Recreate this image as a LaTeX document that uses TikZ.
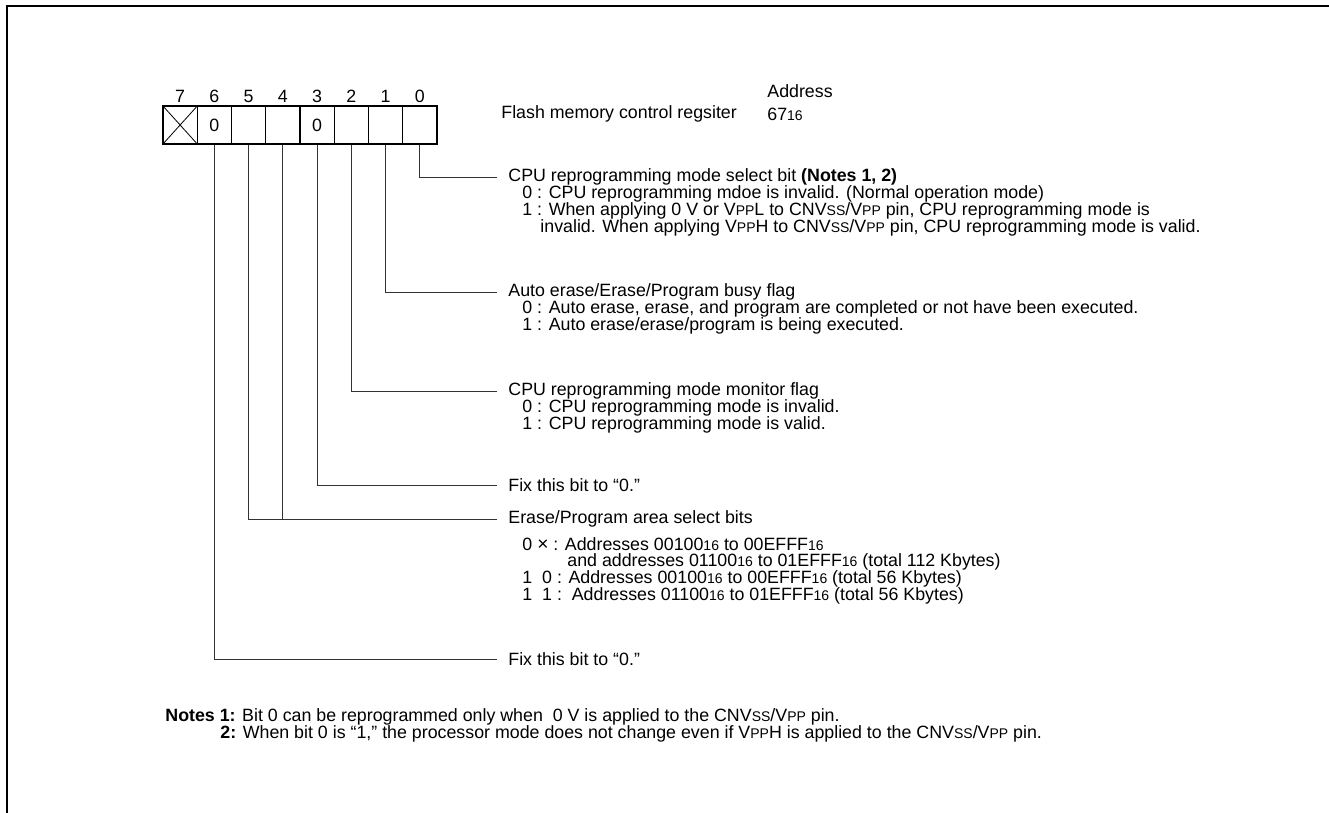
\documentclass[tikz,border=0pt]{standalone}
\usepackage{fontspec}
\setmainfont{Liberation Sans}
\usetikzlibrary{positioning}

% small letters used in pin names and in the radix
\newcommand\sml[1]{{\fontsize{7}{7}\selectfont #1}}
\newcommand\hex[1]{#1\sml{16}}

\tikzset{
  cell/.style={draw, line width=0.6pt, minimum width=17.1pt,
    minimum height=19pt, inner sep=0pt},
  bitnum/.style={inner sep=0pt},
  title/.style={anchor=west, inner xsep=5.5pt, inner ysep=0pt},
  item/.style={anchor=west, inner sep=0pt},
  lead/.style={line width=0.4pt, black!80}
}

\begin{document}
\begin{tikzpicture}[
  x=0.5pt,
  y=-0.5pt,
  font=\fontsize{8.9}{9}\selectfont
]
  \useasboundingbox (0,0) rectangle (1329,813);

  % Rahmen
  \draw[line width=1.4pt]
    (7,813) -- (7,6) -- (1329,6);

  % Register cells
  \foreach \b in {0,...,7} {
    \node[cell] (b\b) at ({163+34.25*(7-\b)+17.12},125) {};
    \node[bitnum] at ({163+34.25*(7-\b)+17.12},96) {\b};
  }
  \node at (b6) {0};
  \node at (b3) {0};
  \draw[line width=0.4pt]
    (b7.north west) -- (b7.south east)
    (b7.south west) -- (b7.north east);

  \node[item] (name) at (501,114) {Flash memory control regsiter};
  \node[item] (addr) at (767,91) {Address};
  \node[item] (addrv) at (767,114) {\hex{67}};

  % Bit 0
  \node[title] (t0) at (497,177)
    {CPU reprogramming mode select bit \textbf{(Notes 1, 2)}};
  \node[item] (t0a) at (522,194)
    {0 : CPU reprogramming mdoe is invalid. (Normal operation mode)};
  \node[item] (t0b) at (522,211)
    {1 : When applying 0 V or V\sml{PP}L to CNV\sml{SS}/V\sml{PP} pin,
     CPU reprogramming mode is};
  \node[item] (t0c) at (540,228)
    {invalid. When applying V\sml{PP}H to CNV\sml{SS}/V\sml{PP} pin,
     CPU reprogramming mode is valid.};

  % Bit 1
  \node[title] (t1) at (497,292)
    {Auto erase/Erase/Program busy flag};
  \node[item] (t1a) at (522,309)
    {0 : Auto erase, erase, and program are completed or not have been executed.};
  \node[item] (t1b) at (522,326)
    {1 : Auto erase/erase/program is being executed.};

  % Bit 2
  \node[title] (t2) at (497,391)
    {CPU reprogramming mode monitor flag};
  \node[item] (t2a) at (522,408)
    {0 : CPU reprogramming mode is invalid.};
  \node[item] (t2b) at (522,425)
    {1 : CPU reprogramming mode is valid.};

  % Bit 3
  \node[title] (t3) at (497,485) {Fix this bit to “0.”};

  % Bits 5, 4
  \node[title] (t4) at (497,519)
    {Erase/Program area select bits};
  \node[item] (t4a) at (522,544)
    {0 {\fontsize{9.6}{9.6}\selectfont ×} : Addresses \hex{00100} to \hex{00EFFF}};
  \node[item] (t4b) at (567,562)
    {and addresses \hex{01100} to \hex{01EFFF} (total 112 Kbytes)};
  \node[item] (t4c) at (522,579)
    {1\ \ 0 : Addresses \hex{00100} to \hex{00EFFF} (total 56 Kbytes)};
  \node[item] (t4d) at (522,596)
    {1\ \ 1 :\ \ Addresses \hex{01100} to \hex{01EFFF} (total 56 Kbytes)};

  % Bit 6
  \node[title] (t6) at (497,659) {Fix this bit to “0.”};

  % Leitungen
  \draw[lead] (b0.south) |- (t0.west);
  \draw[lead] (b1.south) |- (t1.west);
  \draw[lead] (b2.south) |- (t2.west);
  \draw[lead] (b3.south) |- (t3.west);
  \draw[lead] (b5.south) |- (t4.west);
  \draw[lead] (b4.south) -- (b4.south |- t4.west);
  \draw[lead] (b6.south) |- (t6.west);

  % Notes
  \node[item] (n1) at (165,717)
    {\textbf{Notes 1:} Bit 0 can be reprogrammed only when\ \ 0 V is applied
     to the CNV\sml{SS}/V\sml{PP} pin.};
  \node[item] (n2) at (220,734)
    {\textbf{2:} When bit 0 is “1,” the processor mode does not change even if
     V\sml{PP}H is applied to the CNV\sml{SS}/V\sml{PP} pin.};
\end{tikzpicture}
\end{document}
